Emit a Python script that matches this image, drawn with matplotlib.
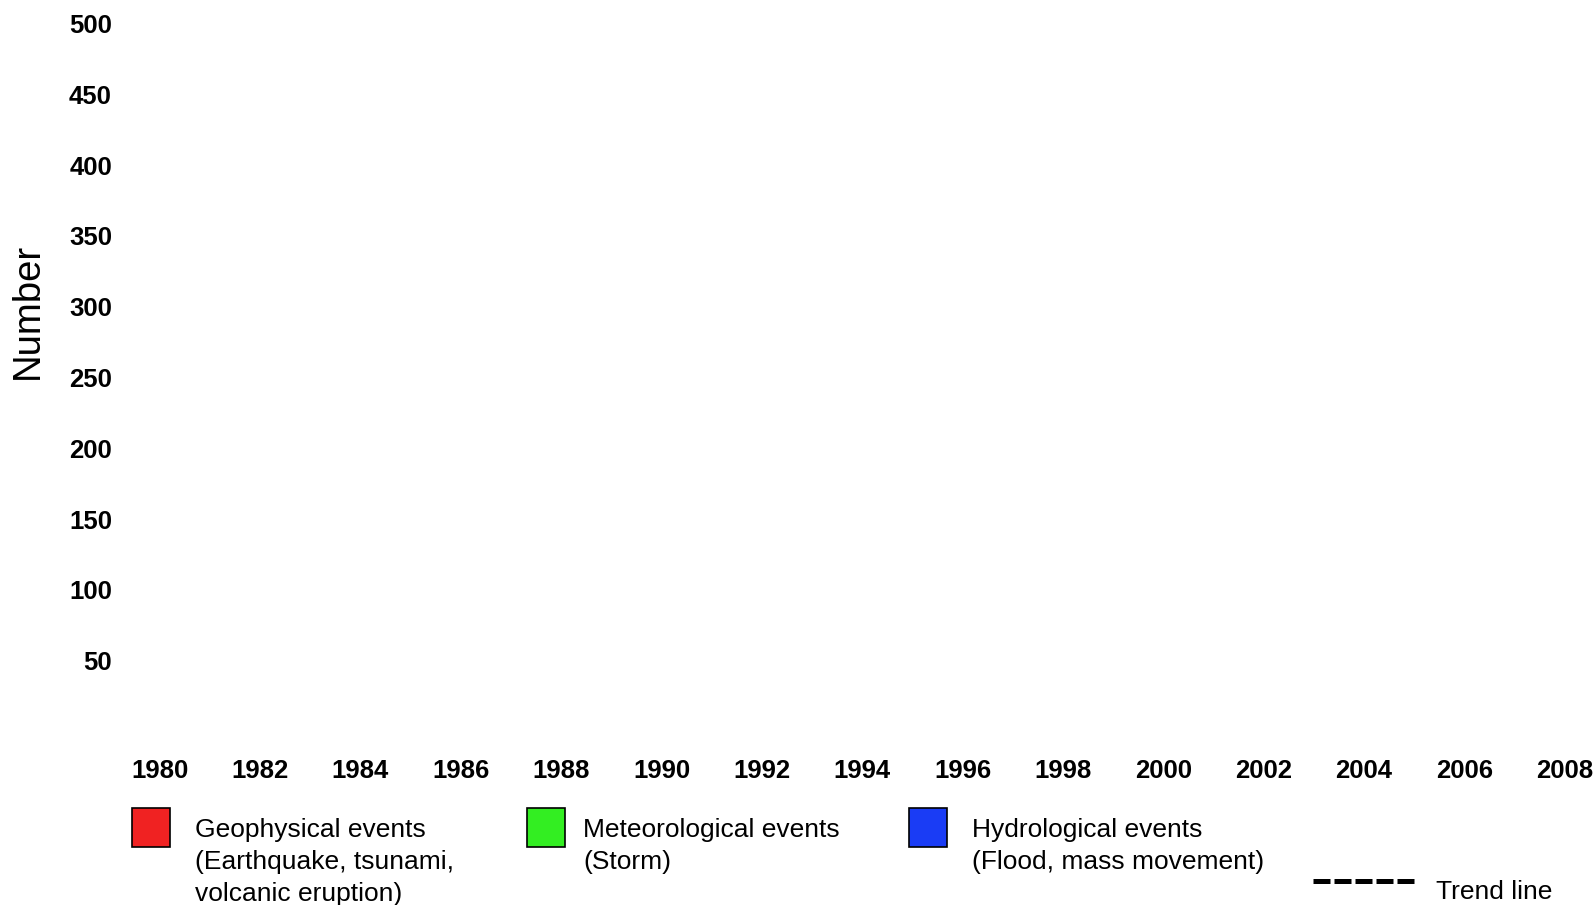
import matplotlib
matplotlib.use("Agg")
import matplotlib.pyplot as plt
from matplotlib.patches import Rectangle
from matplotlib.lines import Line2D

# ─── data ─────────────────────────────────────────────
years = list(range(1980, 2009, 2))
y_ticks = [50, 100, 150, 200, 250, 300, 350, 400, 450, 500]
y_label = "Number"

legend_labels = [
    "Geophysical events\n(Earthquake, tsunami,\nvolcanic eruption)",
    "Meteorological events\n(Storm)",
    "Hydrological events\n(Flood, mass movement)",
]
legend_colors = ["#F02222", "#33EE22", "#1A3CF5"]
trend_label = "Trend line"

# ─── figure ───────────────────────────────────────────
plt.rcParams["font.family"] = ["Liberation Sans", "DejaVu Sans"]
W, H = 1596, 905
fig = plt.figure(figsize=(W / 100, H / 100), dpi=100)
fig.patch.set_facecolor("white")

ax = fig.add_axes([159.8 / W, 1 - 731.5 / H, (1564.6 - 159.8) / W, (731.5 - 23.4) / H])
ax.set_xlim(years[0], years[-1])
ax.set_ylim(0, 500)
ax.set_xticks(years)
ax.set_xticklabels([str(y) for y in years], fontsize=18.5, fontweight="bold")
ax.set_yticks(y_ticks)
ax.set_yticklabels([str(v) for v in y_ticks], fontsize=18.5, fontweight="bold")
ax.tick_params(axis="y", length=0, pad=34.5)
ax.tick_params(axis="x", length=0, pad=20)
for s in ax.spines.values():
    s.set_visible(False)
ax.patch.set_alpha(0)

fig.text(27.5 / W, 1 - 310.5 / H, y_label, rotation=90, fontsize=27.5,
         ha="center", va="center")

# ─── legend (hand-placed, px from top-left) ───────────
box_x = [132, 527, 909]
text_x = [195, 583, 972]
for bx, tx, lbl, col in zip(box_x, text_x, legend_labels, legend_colors):
    fig.add_artist(Rectangle((bx / W, 1 - 847 / H), 38 / W, 39 / H,
                             transform=fig.transFigure, facecolor=col,
                             edgecolor="black", linewidth=1.2))
    fig.text(tx / W, 1 - 818 / H, lbl, fontsize=19, ha="left", va="top",
             linespacing=1.42)

fig.add_artist(Line2D([1313 / W, 1415 / W], [1 - 880.5 / H] * 2,
                      transform=fig.transFigure, color="black", linewidth=3.6,
                      linestyle=(0, (3.4, 0.8))))
fig.text(1436 / W, 1 - 891.5 / H, trend_label, fontsize=19, ha="left", va="center")

fig.savefig("out.png", dpi=100, facecolor="white")
